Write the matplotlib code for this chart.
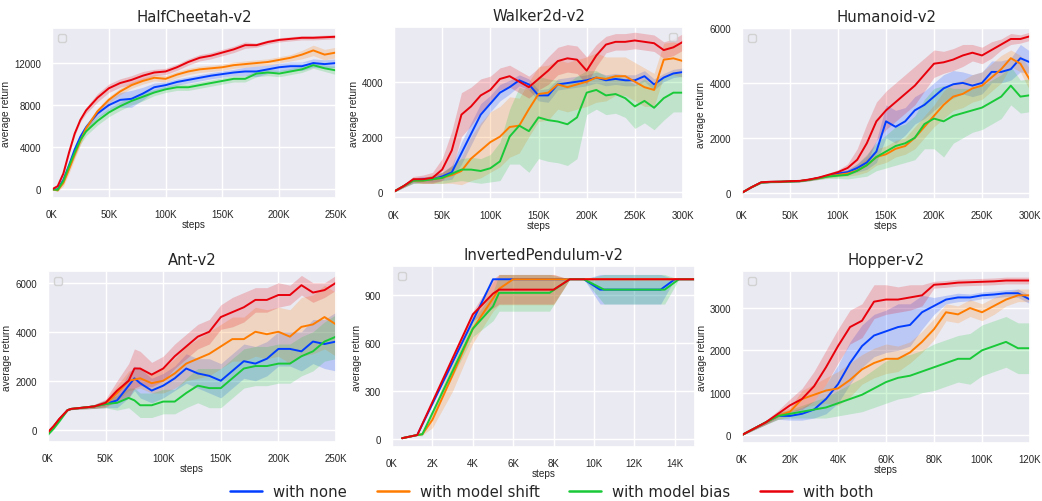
import matplotlib
matplotlib.use("Agg")
import matplotlib.pyplot as plt
import seaborn as sns
import numpy as np

sns.set_theme(style="darkgrid")
plt.rcParams['font.family'] = ['Liberation Sans', 'DejaVu Sans']

labels = ['with none', 'with model shift', 'with model bias', 'with both']
colors = ['#023eff', '#ff7c00', '#1ac938', '#e8000b']

# ---- HalfCheetah-v2 (x in K steps)
hc_x = [0, 5, 10, 15, 20, 25, 30, 40, 50, 60, 70, 80, 90, 100, 110, 120, 130, 140, 150,
        160, 170, 180, 190, 200, 210, 220, 230, 240, 250]
hc_none = [0, 0, 900, 2300, 3800, 5000, 5900, 7200, 8000, 8500, 8600, 9100, 9700, 9900, 10200,
           10400, 10600, 10800, 10950, 11100, 11200, 11200, 11400, 11600, 11700, 11700, 12000, 11900, 12000]
hc_shift = [0, -100, 600, 1900, 3300, 4600, 5800, 7400, 8500, 9300, 9900, 10300, 10600, 10500, 10900,
            11200, 11400, 11500, 11600, 11800, 11900, 12000, 12100, 12300, 12500, 12800, 13200, 12800, 13000]
hc_bias = [0, -50, 800, 2200, 3500, 4700, 5500, 6500, 7300, 7900, 8400, 8800, 9200, 9500, 9700,
           9700, 9900, 10100, 10300, 10500, 10500, 11000, 11100, 11000, 11200, 11400, 11800, 11500, 11300]
hc_both = [0, 300, 1500, 3500, 5300, 6600, 7500, 8700, 9600, 10100, 10400, 10800, 11100, 11200, 11600,
           12100, 12500, 12700, 13000, 13300, 13700, 13700, 14000, 14200, 14300, 14400, 14400, 14450, 14500]
hc_none_sd = [50, 100, 200, 300, 300, 300, 300, 400, 500, 700, 800, 600, 400, 300, 300,
              300, 300, 300, 300, 300, 400, 500, 400, 400, 400, 400, 400, 400, 400]
hc_shift_sd = [50, 100, 300, 400, 400, 400, 300, 300, 300, 300, 300, 300, 300, 300, 300,
               300, 300, 300, 300, 300, 300, 300, 300, 300, 300, 400, 500, 500, 500]
hc_bias_sd = [50, 100, 200, 300, 400, 400, 400, 400, 400, 400, 400, 400, 300, 300, 300,
              300, 300, 300, 300, 300, 300, 300, 300, 300, 300, 300, 300, 300, 400]
hc_both_sd = [50, 100, 200, 200, 200, 200, 300, 400, 400, 400, 400, 400, 300, 300, 300,
              300, 300, 300, 300, 300, 300, 200, 200, 200, 200, 200, 200, 200, 200]

# ---- Walker2d-v2
wk_x = list(range(0, 301, 10))
wk_none = [0, 200, 400, 450, 450, 550, 700, 1400, 2100, 2800, 3200, 3600, 3800, 4050, 3900, 3500,
           3500, 3900, 3950, 4000, 4050, 4150, 4050, 4100, 4050, 4050, 4200, 3900, 4150, 4300, 4350]
wk_shift = [0, 200, 400, 400, 450, 500, 600, 750, 1200, 1500, 1800, 2000, 2350, 2400, 3000, 3550,
            3600, 3900, 3800, 3900, 4000, 4150, 4100, 4200, 4200, 4000, 3800, 3700, 4800, 4850, 4750]
wk_bias = [0, 200, 400, 400, 450, 500, 650, 800, 800, 750, 850, 1100, 2000, 2400, 2200, 2700,
           2600, 2550, 2450, 2700, 3600, 3700, 3500, 3550, 3400, 3100, 3300, 3050, 3400, 3600, 3600]
wk_both = [0, 200, 450, 450, 500, 800, 1500, 2800, 3100, 3500, 3700, 4100, 4200, 4000, 3800, 4100,
           4400, 4750, 4850, 4800, 4400, 4950, 5350, 5450, 5450, 5500, 5450, 5400, 5150, 5250, 5450]
wk_none_sd = [20, 50, 100, 100, 100, 150, 250, 400, 400, 400, 300, 300, 250, 200, 200, 200,
              250, 200, 200, 200, 200, 200, 200, 200, 200, 200, 200, 200, 150, 150, 150]
wk_shift_sd = [20, 50, 100, 100, 150, 200, 300, 500, 800, 1000, 1100, 1100, 1100, 1000, 1000, 1000,
               1000, 900, 900, 900, 900, 900, 800, 700, 700, 700, 700, 600, 600, 600, 600]
wk_bias_sd = [20, 50, 100, 100, 150, 200, 300, 400, 450, 450, 500, 700, 1000, 1400, 1500, 1500,
              1500, 1500, 1500, 1500, 800, 700, 700, 700, 700, 800, 800, 800, 800, 700, 700]
wk_both_sd = [20, 50, 100, 150, 200, 400, 700, 800, 700, 600, 500, 400, 400, 400, 400, 400,
              500, 500, 500, 500, 500, 400, 300, 300, 300, 300, 300, 300, 300, 300, 300]

# ---- Humanoid-v2
hm_x = list(range(0, 301, 10))
hm_none = [0, 200, 370, 390, 400, 410, 420, 470, 540, 620, 700, 750, 900, 1100, 1500, 2600,
           2400, 2600, 3000, 3200, 3500, 3800, 3950, 4000, 3900, 4000, 4400, 4400, 4500, 4900, 4750]
hm_shift = [0, 200, 370, 390, 400, 410, 420, 470, 530, 600, 650, 700, 800, 1000, 1300, 1400,
            1600, 1700, 2000, 2400, 2800, 3200, 3500, 3600, 3800, 3900, 4200, 4500, 4900, 4700, 4100]
hm_bias = [0, 200, 370, 390, 400, 410, 420, 470, 530, 590, 620, 650, 800, 1000, 1300, 1500,
           1700, 1800, 2000, 2500, 2700, 2600, 2800, 2900, 3000, 3100, 3300, 3500, 3900, 3500, 3550]
hm_both = [0, 200, 380, 400, 400, 420, 430, 480, 550, 650, 750, 900, 1200, 1800, 2600, 3000,
           3300, 3600, 3900, 4300, 4700, 4750, 4850, 5000, 5100, 5000, 5200, 5400, 5600, 5600, 5700]
hm_none_sd = [10, 20, 30, 30, 30, 30, 30, 40, 50, 60, 80, 100, 150, 250, 400, 600,
              600, 500, 500, 500, 500, 500, 500, 400, 400, 400, 400, 400, 400, 500, 400]
hm_shift_sd = [10, 20, 30, 30, 30, 30, 30, 40, 50, 60, 80, 100, 150, 250, 300, 300,
               300, 300, 400, 400, 400, 500, 500, 500, 500, 500, 500, 500, 300, 300, 400]
hm_bias_sd = [10, 20, 30, 30, 30, 30, 30, 40, 50, 70, 100, 150, 250, 400, 500, 600,
              700, 700, 800, 900, 1100, 1300, 1000, 900, 800, 800, 800, 800, 700, 600, 600]
hm_both_sd = [10, 20, 30, 30, 30, 30, 30, 40, 50, 60, 80, 150, 400, 700, 700, 700,
              700, 700, 700, 600, 500, 400, 400, 400, 300, 300, 300, 200, 200, 150, 150]

# ---- Ant-v2
at_x = [0, 5, 10, 17, 20, 30, 40, 50, 60, 70, 75, 80, 90, 100, 110, 120, 130, 140, 150, 160,
        170, 180, 190, 200, 210, 220, 230, 240, 250]
at_none = [-100, 150, 450, 800, 850, 900, 950, 1050, 1200, 1800, 2100, 1900, 1600, 1800, 2100, 2500,
           2300, 2200, 2000, 2400, 2800, 2700, 2900, 3300, 3300, 3200, 3600, 3500, 3600]
at_shift = [-100, 150, 450, 800, 850, 900, 950, 1050, 1500, 2000, 2050, 2100, 1900, 2000, 2300, 2700,
            2900, 3100, 3400, 3700, 3700, 4000, 3900, 4000, 3800, 4200, 4300, 4600, 4300]
at_bias = [-200, 50, 350, 800, 850, 900, 950, 1050, 1100, 1300, 1200, 1000, 1000, 1150, 1150, 1500,
           1800, 1700, 1700, 2100, 2500, 2600, 2600, 2700, 2700, 3000, 3200, 3600, 3800]
at_both = [-100, 150, 450, 800, 850, 900, 950, 1100, 1600, 2000, 2500, 2500, 2250, 2500, 3000, 3400,
           3800, 4000, 4600, 4800, 5000, 5300, 5300, 5500, 5500, 5900, 5600, 5700, 6000]
at_none_sd = [30, 30, 30, 30, 30, 50, 80, 150, 300, 500, 500, 600, 500, 500, 500, 600,
              600, 700, 700, 700, 700, 700, 700, 700, 700, 800, 900, 1000, 1200]
at_shift_sd = [30, 30, 30, 30, 30, 50, 80, 150, 300, 400, 400, 400, 400, 500, 600, 700,
               800, 900, 900, 900, 900, 1000, 1000, 1000, 1100, 1200, 1200, 1300, 1300]
at_bias_sd = [30, 30, 30, 30, 30, 50, 80, 150, 300, 400, 500, 500, 500, 500, 500, 600,
              700, 800, 800, 800, 800, 800, 800, 800, 800, 800, 800, 800, 900]
at_both_sd = [30, 30, 30, 30, 30, 50, 80, 150, 400, 700, 800, 700, 500, 500, 500, 500,
              500, 500, 500, 600, 600, 500, 500, 500, 400, 400, 400, 300, 300]

# ---- InvertedPendulum-v2 (own x per series, bands as low / high)
ip_none_x = [0.5, 1.25, 5.0, 9.5, 10.3, 13.3, 14.0, 15.0]
ip_none = [5, 25, 1000, 1000, 935, 935, 1000, 1000]
ip_none_lo = [5, 25, 1000, 1000, 845, 845, 1000, 1000]
ip_none_hi = [5, 25, 1000, 1000, 1030, 1030, 1000, 1000]
ip_shift_x = [0.5, 1.25, 1.5, 2.0, 3.0, 4.0, 5.0, 5.3, 6.0, 8.0, 8.8, 15.0]
ip_shift = [5, 25, 30, 120, 400, 690, 880, 940, 1000, 1000, 1000, 1000]
ip_shift_lo = [5, 25, 25, 70, 300, 600, 800, 840, 840, 840, 1000, 1000]
ip_shift_hi = [5, 25, 40, 170, 500, 780, 980, 1030, 1030, 1030, 1000, 1000]
ip_bias_x = [0.5, 1.25, 1.5, 4.0, 5.0, 5.3, 7.8, 8.8, 9.5, 10.5, 13.5, 14.2, 15.0]
ip_bias = [5, 25, 30, 690, 830, 915, 915, 1000, 1000, 935, 935, 1000, 1000]
ip_bias_lo = [5, 20, 20, 640, 740, 800, 800, 1000, 1000, 845, 845, 1000, 1000]
ip_bias_hi = [5, 30, 45, 740, 920, 1030, 1030, 1000, 1000, 1030, 1030, 1000, 1000]
ip_both_x = [0.5, 1.25, 4.0, 5.0, 5.3, 8.0, 8.8, 15.0]
ip_both = [5, 25, 780, 910, 935, 935, 1000, 1000]
ip_both_lo = [5, 25, 740, 820, 845, 845, 1000, 1000]
ip_both_hi = [5, 25, 800, 1000, 1030, 1030, 1000, 1000]

# ---- Hopper-v2
hp_x = list(range(0, 121, 5))
hp_none = [0, 150, 300, 450, 450, 500, 600, 850, 1200, 1700, 2100, 2350, 2450, 2550, 2600, 2900,
           3050, 3200, 3250, 3250, 3300, 3320, 3350, 3350, 3200]
hp_shift = [0, 150, 300, 450, 550, 850, 950, 1050, 1100, 1300, 1550, 1700, 1800, 1800, 1950, 2200,
            2500, 2900, 2850, 3000, 2900, 3050, 3200, 3300, 3300]
hp_bias = [0, 150, 300, 450, 500, 550, 600, 650, 750, 850, 950, 1100, 1250, 1350, 1400, 1500,
           1600, 1700, 1800, 1800, 2000, 2100, 2200, 2050, 2050]
hp_both = [0, 150, 300, 500, 700, 850, 1150, 1600, 2100, 2550, 2700, 3150, 3200, 3200, 3250, 3300,
           3550, 3570, 3600, 3610, 3620, 3630, 3650, 3650, 3650]
hp_none_sd = [10, 30, 50, 80, 100, 150, 200, 350, 450, 500, 500, 500, 500, 550, 500, 400,
              200, 100, 100, 80, 80, 80, 80, 100, 100]
hp_shift_sd = [10, 30, 50, 80, 100, 200, 250, 300, 400, 400, 350, 350, 350, 300, 250, 250,
               250, 200, 200, 200, 200, 200, 150, 150, 150]
hp_bias_sd = [10, 30, 50, 80, 100, 150, 200, 250, 300, 350, 400, 450, 500, 500, 500, 500,
              550, 550, 550, 600, 600, 600, 600, 600, 600]
hp_both_sd = [10, 30, 50, 80, 150, 250, 350, 400, 400, 400, 400, 400, 350, 300, 300, 250,
              80, 80, 80, 80, 80, 80, 80, 80, 80]


def draw(ax, xs, ys, los, his):
    for x, y, lo, hi, c in zip(xs, ys, los, his, colors):
        ax.fill_between(x, lo, hi, color=c, alpha=0.2, lw=0)
        ax.plot(x, y, color=c, lw=1.4)


def draw_sd(ax, x, ys, sds):
    los = [np.array(y) - np.array(s) for y, s in zip(ys, sds)]
    his = [np.array(y) + np.array(s) for y, s in zip(ys, sds)]
    draw(ax, [x] * 4, ys, los, his)


W, H = 1042, 502
fig = plt.figure(figsize=(W / 100, H / 100), dpi=100)

def box(l, r, t, b):
    return [l / W, 1 - b / H, (r - l) / W, (b - t) / H]

panels = [
    ("HalfCheetah-v2", box(52, 336, 29, 199), (0, 250), range(0, 251, 50), (-825, 15330), [0, 4000, 8000, 12000], 'upper left'),
    ("Walker2d-v2", box(394, 683, 28, 200), (0, 300), range(0, 301, 50), (-270, 5990), [0, 2000, 4000], 'upper right'),
    ("Humanoid-v2", box(742, 1030, 29, 200), (0, 300), range(0, 301, 50), (-230, 6000), [0, 2000, 4000, 6000], 'upper left'),
    ("Ant-v2", box(48, 336, 272, 443), (0, 250), range(0, 251, 50), (-500, 6480), [0, 2000, 4000, 6000], 'upper left'),
    ("InvertedPendulum-v2", box(392, 695, 267, 448), (0, 15), range(0, 15, 2), (-50, 1083), [0, 300, 600, 900], 'upper left'),
    ("Hopper-v2", box(742, 1030, 272, 444), (0, 120), range(0, 121, 20), (-190, 3875), [0, 1000, 2000, 3000], 'upper left'),
]

axes = []
for title, pos, xl, xt, yl, yt, lloc in panels:
    ax = fig.add_axes(pos)
    ax.set_title(title, fontsize=10.7, family='DejaVu Sans', pad=5)
    ax.set_xlim(*xl)
    ax.set_ylim(*yl)
    ax.set_xticks(list(xt))
    ax.set_xticklabels([f"{v}K" for v in xt])
    ax.set_yticks(yt)
    ax.tick_params(labelsize=7, pad=2)
    ax.set_xlabel("steps", fontsize=7.2, labelpad=0)
    ax.set_ylabel("average return", fontsize=7.3, labelpad=2)
    ax.legend(handles=[], loc=lloc, fontsize=8)
    axes.append(ax)

draw_sd(axes[0], hc_x, [hc_none, hc_shift, hc_bias, hc_both], [hc_none_sd, hc_shift_sd, hc_bias_sd, hc_both_sd])
draw_sd(axes[1], wk_x, [wk_none, wk_shift, wk_bias, wk_both], [wk_none_sd, wk_shift_sd, wk_bias_sd, wk_both_sd])
draw_sd(axes[2], hm_x, [hm_none, hm_shift, hm_bias, hm_both], [hm_none_sd, hm_shift_sd, hm_bias_sd, hm_both_sd])
draw_sd(axes[3], at_x, [at_none, at_shift, at_bias, at_both], [at_none_sd, at_shift_sd, at_bias_sd, at_both_sd])
draw(axes[4], [ip_none_x, ip_shift_x, ip_bias_x, ip_both_x], [ip_none, ip_shift, ip_bias, ip_both],
     [ip_none_lo, ip_shift_lo, ip_bias_lo, ip_both_lo], [ip_none_hi, ip_shift_hi, ip_bias_hi, ip_both_hi])
draw_sd(axes[5], hp_x, [hp_none, hp_shift, hp_bias, hp_both], [hp_none_sd, hp_shift_sd, hp_bias_sd, hp_both_sd])

handles = [plt.Line2D([], [], color=c, lw=1.8) for c in colors]
fig.legend(handles, labels, loc='center', bbox_to_anchor=(552 / W, 9 / H), ncol=4, frameon=False,
           prop={'family': 'DejaVu Sans', 'size': 10.7}, columnspacing=2.0, handlelength=2.15,
           handletextpad=0.75)

fig.savefig("out.png", dpi=100, facecolor='white')
